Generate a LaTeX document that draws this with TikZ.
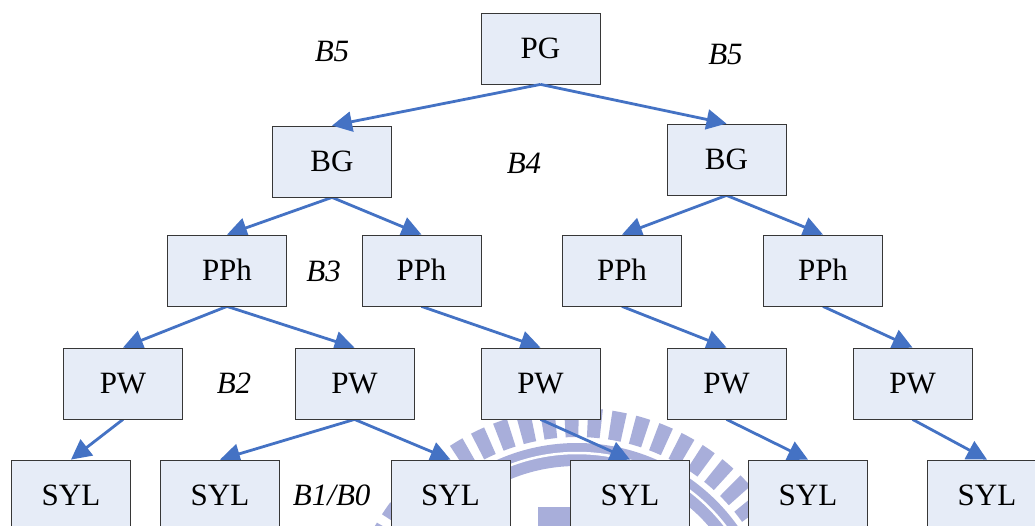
\documentclass[tikz,border=0pt]{standalone}
\usepackage{fontspec}
\setmainfont{Liberation Serif}
\usetikzlibrary{arrows.meta}
\definecolor{boxfill}{RGB}{230,236,247}
\definecolor{boxline}{RGB}{55,55,55}
\definecolor{arrowblue}{RGB}{68,114,196}
\definecolor{wmark}{RGB}{168,174,218}
\pgfdeclarelayer{wm}
\pgfdeclarelayer{behind}
\pgfsetlayers{wm,behind,main}
\begin{document}
\begin{tikzpicture}[x=1pt,y=-1pt,
  box/.style={draw=boxline,line width=0.8pt,fill=boxfill,minimum width=119pt,minimum height=71pt,inner sep=0pt,text height=20.5pt,text depth=0pt,font=\fontsize{31}{36}\selectfont},
  lbl/.style={anchor=base,inner sep=0pt,font=\fontsize{31}{36}\selectfont\itshape},
  conn/.style={draw=arrowblue,line width=2.8pt,-{Triangle[length=20pt,width=20pt]}}]
\useasboundingbox (0,0) rectangle (1035,526);
% watermark
\begin{pgfonlayer}{wm}
\fill[white] (0,0) rectangle (1035,526);
\begin{scope}
\clip (0,0) rectangle (1035,526);
\begin{scope}[shift={(577,640)}]
\foreach \a [evaluate=\a as \aL using \a-1.8, evaluate=\a as \aR using \a+1.8] in {4.6,10.6,...,364}
  \fill[wmark] (\aL:203) -- (\aL:232) arc[start angle=\aL,end angle=\aR,radius=232] -- (\aR:203) arc[start angle=\aR,end angle=\aL,radius=203] -- cycle;
\fill[wmark,even odd rule] (0,0) circle[radius=197] (0,0) circle[radius=174];
\draw[white,line width=2.5pt] (0,0) circle[radius=187];
\end{scope}
\fill[wmark] (538,507) rectangle (575,530);
\end{scope}
\end{pgfonlayer}
% nodes
\node[box] (pg)   at (540.5,48.5) {PG};
\node[box] (bg1)  at (332,161.5) {BG};
\node[box] (bg2)  at (726.5,159.5) {BG};
\node[box] (pph1) at (227,270.5) {PPh};
\node[box] (pph2) at (421.5,270.5) {PPh};
\node[box] (pph3) at (622,270.5) {PPh};
\node[box] (pph4) at (823,270.5) {PPh};
\node[box] (pw1)  at (123,383.5) {PW};
\node[box] (pw2)  at (354.5,383.5) {PW};
\node[box] (pw3)  at (540.5,383.5) {PW};
\node[box] (pw4)  at (726.5,383.5) {PW};
\node[box] (pw5)  at (912.5,383.5) {PW};
\node[box] (syl1) at (71,495.5) {SYL};
\node[box] (syl2) at (220,495.5) {SYL};
\node[box] (syl3) at (450.5,495.5) {SYL};
\node[box] (syl4) at (630,495.5) {SYL};
\node[box] (syl5) at (808,495.5) {SYL};
\node[box] (syl6) at (987,495.5) {SYL};
% labels
\node[lbl] (b5l) at (332,61.5) {B5};
\node[lbl] (b5r) at (725.5,65) {B5};
\node[lbl] (b4)  at (524,173.3) {B4};
\node[lbl] (b3)  at (323.7,281.7) {B3};
\node[lbl] (b2)  at (234,393) {B2};
\node[lbl] (b10) at (331.7,505) {B1/B0};
% connectors
\draw[conn] (pg.south) -- (bg1.north);
\draw[conn] (pg.south) -- (bg2.north);
\begin{pgfonlayer}{behind}
\draw[conn] (bg1.south) -- (pph1.north);
\draw[conn] (bg1.south) -- (pph2.north);
\draw[conn] (bg2.south) -- (pph3.north);
\draw[conn] (bg2.south) -- (pph4.north);
\draw[conn] (pph1.south) -- (pw1.north);
\draw[conn] (pph1.south) -- (pw2.north);
\draw[conn] (pph2.south) -- (pw3.north);
\draw[conn] (pph3.south) -- (pw4.north);
\draw[conn] (pph4.south) -- (pw5.north);
\draw[conn] (pw1.south) -- (syl1.north);
\draw[conn] (pw2.south) -- (syl2.north);
\draw[conn] (pw2.south) -- (syl3.north);
\draw[conn] (pw3.south) -- (syl4.north);
\draw[conn] (pw4.south) -- (syl5.north);
\draw[conn] (pw5.south) -- (syl6.north);
\end{pgfonlayer}
\end{tikzpicture}
\end{document}
